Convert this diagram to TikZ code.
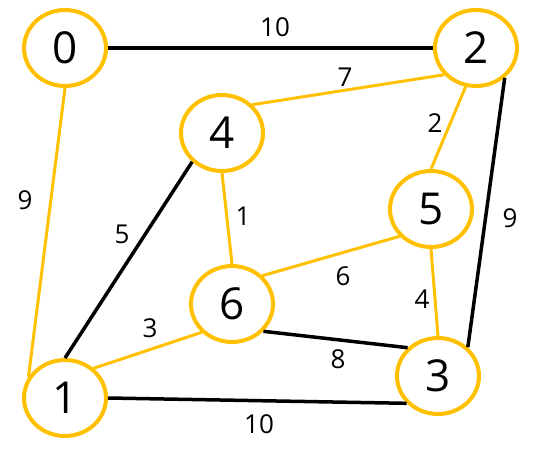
\documentclass[tikz,border=0pt]{standalone}
\usepackage{fontspec}
\setmainfont{Open Sans}
\usetikzlibrary{shapes.geometric}
\definecolor{gold}{HTML}{FFC000}
\begin{document}
\begin{tikzpicture}[x=1pt,y=-1pt,
  vert/.style={ellipse,draw=gold,line width=4pt,minimum width=82pt,minimum height=76pt,inner sep=0pt,font=\fontsize{44}{44}\selectfont},
  ge/.style={draw=gold,line width=3pt},
  be/.style={draw=black,line width=3.5pt},
  lbl/.style={font=\fontsize{26}{26}\selectfont,inner sep=0pt}]
\useasboundingbox (0,0) rectangle (536,458);
\node[vert] (n0) at (65,48) {0};
\node[vert] (n2) at (476,48) {2};
\node[vert] (n4) at (222,133) {4};
\node[vert] (n5) at (431,209) {5};
\node[vert] (n6) at (232,304) {6};
\node[vert] (n3) at (438,376) {3};
\node[vert] (n1) at (65,398) {1};
\draw[be] (n0.east) -- (n2.west);
\draw[ge] (n0.south) -- (n1.150);
\draw[ge] (n2.220) -- (n4.43);
\draw[ge] (n2.255) -- (n5.north);
\draw[be] (n2.314) -- (n3.44);
\draw[be] (n4.224) -- (n1.north);
\draw[ge] (n4.south) -- (n6.north);
\draw[ge] (n5.221) -- (n6.43);
\draw[ge] (n5.south) -- (n3.north);
\draw[be] (n6.319) -- (n3.137);
\draw[ge] (n1.46) -- (n6.223);
\draw[be] (n1.east) -- (n3.221);
\node[lbl] (l02) at (275,27) {10};
\node[lbl] (l01) at (25,200) {9};
\node[lbl] (l24) at (345,77) {7};
\node[lbl] (l25) at (435,123) {2};
\node[lbl] (l23) at (510,218) {9};
\node[lbl] (l41) at (122,234) {5};
\node[lbl] (l46) at (243,216) {1};
\node[lbl] (l56) at (343,276) {6};
\node[lbl] (l53) at (422,299) {4};
\node[lbl] (l63) at (338,359) {8};
\node[lbl] (l16) at (150,328) {3};
\node[lbl] (l13) at (259,424) {10};
\end{tikzpicture}
\end{document}
